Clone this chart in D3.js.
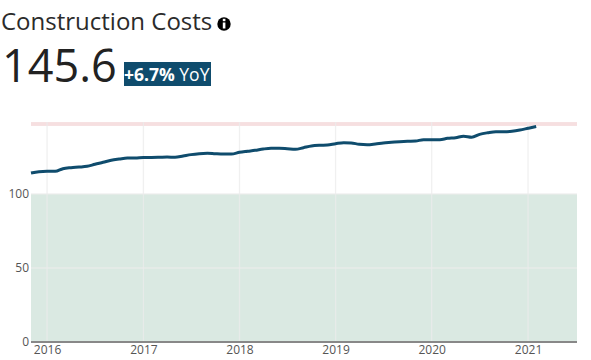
<!DOCTYPE html>
<html><head><meta charset="utf-8">
<script src="https://cdn.jsdelivr.net/npm/d3@7"></script>
<style>html,body{margin:0;padding:0;background:#fff}svg{display:block}text{font-family:"Open Sans",sans-serif}</style>
</head><body><svg id="c" width="591" height="360"></svg>
<script>
const title = "Construction Costs";
const latest = "145.6";
const badgeBold = "+6.7%";
const badgeRest = " YoY";
const seriesStart = "2015-11-01";
const values = [114.2,115.1,115.3,115.3,117.1,117.8,118.2,118.7,120.1,121.4,122.8,123.6,124.3,124.3,124.7,124.7,
124.8,125,124.8,125.7,126.6,127.2,127.5,127.2,127,127,128.2,128.9,129.5,130.4,130.9,130.9,
130.6,130.2,131.3,132.4,132.9,133.1,134,134.7,134.5,133.6,133.3,133.8,134.5,134.9,135.3,135.6,
135.8,136.7,136.7,136.7,137.6,138,139,138.3,140.3,141.4,142.1,142.1,142.4,143.2,144.4,145.6];
const yTicks = [0,50,100];
const xTickYears = [2016,2017,2018,2019,2020,2021];
const greenBand = [0,100];
const redBand = [146,148.6];

const svg = d3.select("#c");
const x = d3.scaleUtc().domain([new Date(Date.UTC(2015,10,1)), new Date(Date.UTC(2021,6,6))]).range([31,577]);
const y = d3.scaleLinear().domain([0,100]).range([342,194]);
const start = new Date(seriesStart+"T00:00:00Z");
const pts = values.map((v,i)=>({d:d3.utcMonth.offset(start,i),v}));
const x0=31,x1=577;

svg.append("rect").attr("x",x0).attr("width",x1-x0).attr("y",y(greenBand[1])).attr("height",y(greenBand[0])-y(greenBand[1])).attr("fill","#dae9e2");
svg.append("rect").attr("x",x0).attr("width",x1-x0).attr("y",y(redBand[1])).attr("height",y(redBand[0])-y(redBand[1])).attr("fill","#f6dfe0");

const xTickDates = xTickYears.map(t=>new Date(Date.UTC(t,0,1)));
const grid = svg.append("g").attr("stroke","#ebebeb").attr("stroke-opacity",0.76).attr("stroke-width",1.3);
grid.selectAll("line.v").data(xTickDates).join("line").attr("x1",d=>x(d)).attr("x2",d=>x(d)).attr("y1",y(redBand[1])).attr("y2",342);
grid.selectAll("line.h").data(yTicks.filter(t=>t>0)).join("line").attr("x1",x0).attr("x2",x1).attr("y1",d=>y(d)).attr("y2",d=>y(d));

svg.append("path").datum(pts)
  .attr("d",d3.line().x(d=>x(d.d)).y(d=>y(d.v)).curve(d3.curveMonotoneX))
  .attr("fill","none").attr("stroke","#0f4c6d").attr("stroke-width",3);

const xAxis = svg.append("g").attr("transform","translate(0,342)")
  .call(d3.axisBottom(x).tickValues(xTickDates).tickFormat(d3.utcFormat("%Y")).tickSize(0).tickPadding(3));
xAxis.select(".domain").remove();
xAxis.selectAll("text").attr("font-size",12).attr("fill","#555");
svg.append("line").attr("x1",x0).attr("x2",x1).attr("y1",342).attr("y2",342).attr("stroke","#888").attr("stroke-width",2);

const yAxis = svg.append("g").attr("transform","translate(31,0)")
  .call(d3.axisLeft(y).tickValues(yTicks).tickSize(0).tickPadding(2));
yAxis.select(".domain").remove();
yAxis.selectAll("text").attr("font-size",12).attr("fill","#555").attr("dy","0.3em");

svg.append("text").attr("x",1).attr("y",30).attr("font-size",24).attr("font-weight",500).attr("fill","#2b2b2b").text(title);
svg.append("circle").attr("cx",224).attr("cy",24).attr("r",6.7).attr("fill","#000");
svg.append("rect").attr("x",222.8).attr("y",22.5).attr("width",2.6).attr("height",6).attr("fill","#fff");
svg.append("rect").attr("x",222.8).attr("y",18.8).attr("width",2.6).attr("height",2.4).attr("fill","#fff");
svg.append("text").attr("x",2).attr("y",82).attr("font-size",45).attr("font-weight",500).attr("fill","#222").text(latest);
svg.append("rect").attr("x",124).attr("y",62).attr("width",87).attr("height",24).attr("fill","#0f4c6d");
const b = svg.append("text").attr("x",124).attr("y",81).attr("font-size",17.5).attr("fill","#fff").attr("xml:space","preserve");
b.append("tspan").attr("font-weight",700).text(badgeBold);
b.append("tspan").text(badgeRest);
</script></body></html>
